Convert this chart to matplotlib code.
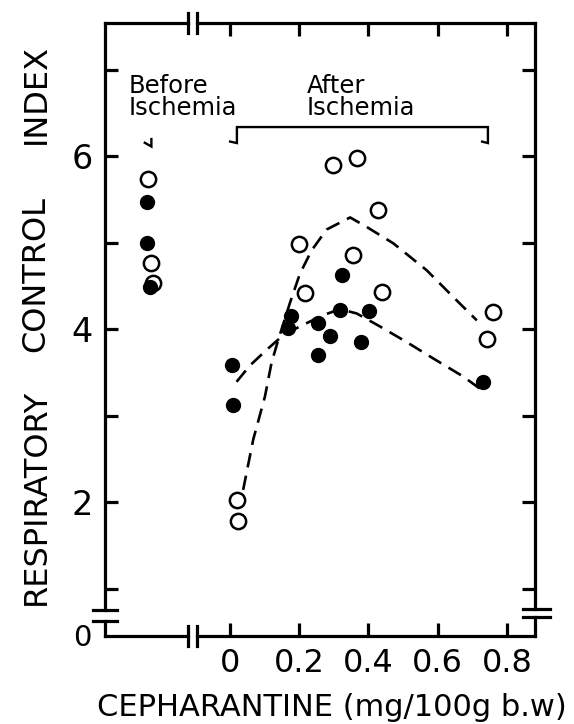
import matplotlib
matplotlib.use("Agg")
import matplotlib.pyplot as plt

# ---------------- data ----------------
# Before ischemia (plotted left of the x-axis break)
before_open_x = [-0.236, -0.229, -0.222]
before_open_y = [5.73, 4.76, 4.53]
before_filled_x = [-0.239, -0.239, -0.231]
before_filled_y = [5.47, 5.00, 4.49]

# After ischemia, vs cepharantine dose (mg/100g b.w)
after_open_x = [0.297, 0.368, 0.428, 0.198, 0.354, 0.217, 0.440, 0.759, 0.743, 0.019, 0.024]
after_open_y = [5.90, 5.98, 5.38, 4.98, 4.86, 4.42, 4.43, 4.20, 3.89, 2.02, 1.78]
after_filled_x = [0.324, 0.175, 0.168, 0.255, 0.318, 0.402, 0.289, 0.377, 0.255, 0.005, 0.010, 0.732]
after_filled_y = [4.63, 4.15, 4.01, 4.07, 4.22, 4.21, 3.92, 3.85, 3.70, 3.58, 3.12, 3.39]

# hand-drawn dashed trend curves
curve_open_x = [0.038, 0.067, 0.101, 0.120, 0.139, 0.173, 0.202, 0.236, 0.279, 0.347,
                0.395, 0.472, 0.568, 0.645, 0.713]
curve_open_y = [2.14, 2.72, 3.22, 3.61, 3.87, 4.30, 4.64, 4.91, 5.15, 5.29,
                5.18, 4.99, 4.68, 4.37, 4.10]
curve_filled_x = [0.019, 0.058, 0.106, 0.154, 0.202, 0.269, 0.318, 0.366, 0.433, 0.510,
                  0.587, 0.674, 0.722]
curve_filled_y = [3.39, 3.58, 3.76, 3.93, 4.03, 4.16, 4.23, 4.18, 4.03, 3.85,
                  3.66, 3.45, 3.31]

x_ticks = [0, 0.2, 0.4, 0.6, 0.8]
x_ticklabels = ["0", "0.2", "0.4", "0.6", "0.8"]
y_ticks = [1, 2, 3, 4, 5, 6, 7]
y_ticklabels = ["", "2", "", "4", "", "6", ""]
y_label_words = ["RESPIRATORY", "CONTROL", "INDEX"]

# ---------------- figure ----------------
plt.rcParams['font.family'] = ['DejaVu Sans']
fig = plt.figure(figsize=(5.74, 7.24), dpi=100)
ax = fig.add_axes([105/574, 1-636/724, 430/574, 613/724])
ax.set_xlim(-0.361, 0.881)
ax.set_ylim(0.451, 7.538)

for s in ax.spines.values():
    s.set_visible(False)

LW = 2.3
# axis lines with breaks (axes coordinates)
xb1, xb2 = 0.193, 0.214
yb1, yb2 = 0.042, 0.024
ryb1, ryb2 = 0.044, 0.031
dv = 0.016
kw = dict(transform=ax.transAxes, color='black', lw=LW, clip_on=False,
          solid_capstyle='projecting')
for yy in (0, 1):
    ax.plot([0, xb1], [yy, yy], **kw)
    ax.plot([xb2, 1], [yy, yy], **kw)
    ax.plot([xb1, xb1], [yy-dv, yy+dv], **kw)
    ax.plot([xb2, xb2], [yy-dv, yy+dv], **kw)
# left axis
ax.plot([0, 0], [yb1, 1], **kw)
ax.plot([0, 0], [0, yb2], **kw)
ax.plot([-0.028, 0.028], [yb1, yb1], **kw)
ax.plot([-0.028, 0.028], [yb2, yb2], **kw)
# right axis
ax.plot([1, 1], [ryb1, 1], **kw)
ax.plot([1, 1], [0, ryb2], **kw)
ax.plot([0.972, 1.035], [ryb1, ryb1], **kw)
ax.plot([0.972, 1.035], [ryb2, ryb2], **kw)

ax.set_xticks(x_ticks)
ax.set_xticklabels(x_ticklabels)
ax.set_yticks(y_ticks)
ax.set_yticklabels(y_ticklabels)
ax.tick_params(axis='both', direction='in', length=9.5, width=LW, pad=9)
ax.tick_params(axis='x', top=True, bottom=True, labelsize=23)
ax.tick_params(axis='y', left=True, right=True, labelsize=24)
ax.text(-0.053, -0.003, "0", transform=ax.transAxes, ha='center', va='center',
        fontsize=21)

# dashed curves
dash = (0, (5.5, 3.2))
ax.plot(curve_open_x, curve_open_y, color='black', lw=1.9, linestyle=dash)
ax.plot(curve_filled_x, curve_filled_y, color='black', lw=1.9, linestyle=dash)

# points
ax.plot(before_open_x + after_open_x, before_open_y + after_open_y, linestyle='none',
        marker='o', markersize=11, markerfacecolor='white', markeredgecolor='black',
        markeredgewidth=1.8, zorder=3)
ax.plot(before_filled_x + after_filled_x, before_filled_y + after_filled_y,
        linestyle='none', marker='o', markersize=10, color='black', zorder=4)

# annotations
ax.text(-0.292, 6.95, "Before\nIschemia", ha='left', va='top', fontsize=17.5,
        linespacing=0.92)
ax.text(0.222, 6.95, "After\nIschemia", ha='left', va='top', fontsize=17.5,
        linespacing=0.92)
lk = dict(color='black', lw=1.7, solid_capstyle='butt', solid_joinstyle='miter')
ax.plot([-0.003, 0.020, 0.020, 0.745, 0.745, 0.725],
        [6.17, 6.15, 6.335, 6.335, 6.15, 6.17], **lk)
ax.plot([-0.227, -0.227, -0.249], [6.21, 6.11, 6.16], **lk)

fig.text(332/574, 1-708/724, "CEPHARANTINE (mg/100g b.w)", ha='center',
         va='center', fontsize=22)
# y-axis title, words spread along the axis as in the original
word_centres_px = [497, 274, 94]
for word, yc in zip(y_label_words, word_centres_px):
    fig.text(36/574, 1-yc/724, word, ha='center', va='center', rotation=90,
             fontsize=23)

fig.savefig("out.png", dpi=100)
